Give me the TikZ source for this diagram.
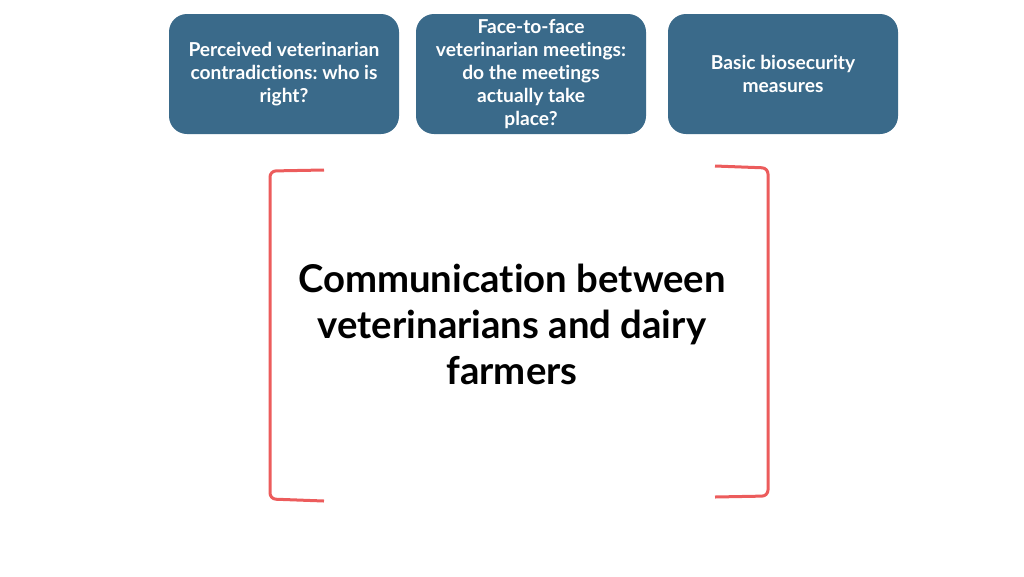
\documentclass[tikz,border=0pt]{standalone}
\usepackage{fontspec}
\setmainfont{Lato}[Ligatures=NoCommon]
\frenchspacing
\usetikzlibrary{positioning}
\definecolor{topicblue}{RGB}{58,106,138}
\definecolor{bracketred}{RGB}{236,92,92}

\begin{document}
\begin{tikzpicture}[x=1pt,y=-1pt,
                    topic/.style={fill=topicblue, rounded corners=18pt, minimum width=230pt,
                      minimum height=120pt, text=white, align=center,
                      font=\bfseries\fontsize{19.2}{23}\selectfont},
                    bracket/.style={draw=bracketred, line width=3pt, rounded corners=6pt}]

  \useasboundingbox (0,0) rectangle (1024,576);

  \node[topic] at (284,74)      (T1)  {Perceived veterinarian\\contradictions: who is\\right?};
  \node[topic] at (531,74)      (T2)  {Face-to-face\\veterinarian meetings:\\do the meetings\\actually take\\place?};
  \node[topic] at (783,74)      (T3)  {Basic biosecurity\\measures};

  \node[align=center, font=\bfseries\fontsize{38.3}{46}\selectfont] at (512,324) (M)
       {Communication between\\veterinarians and dairy\\farmers};

  % brackets
  \draw[bracket] (324,170) -- (270,171) -- (270,499) -- (324,501);
  \draw[bracket] (715,166) -- (768,168) -- (768,496) -- (715,497);

\end{tikzpicture}
\end{document}
